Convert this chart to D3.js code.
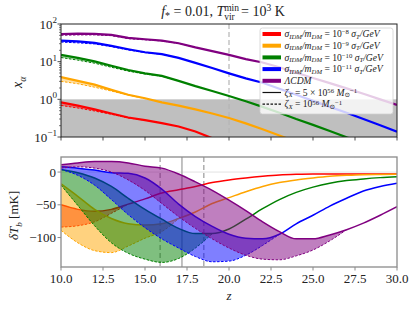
<!DOCTYPE html>
<html>
<head>
<meta charset="utf-8">
<script src="https://cdn.jsdelivr.net/npm/d3@7"></script>
<style>
  body { margin: 0; background: #fff; }
  svg text { font-family: "Liberation Serif", "DejaVu Serif", serif; fill: #222; }
</style>
</head>
<body>
<svg id="chart" width="415" height="310"></svg>
<script>
// ---------- Data ----------
const zGrid = [10, 11, 12, 13, 14, 15, 16, 17, 18, 19, 20, 21, 22, 23, 24, 25, 26, 27, 28, 29, 30];

const names = ["red", "orange", "green", "blue", "purple"];
const legendExp = ["-8", "-9", "-10", "-11"];

// top panel: x_alpha, solid = zeta 5e56, dashed = zeta 1e56 (dashed stops where it joins the solid)
const xaRedSolid = [0.83, 0.68, 0.54, 0.42, 0.33, 0.28, 0.234, 0.19, 0.14, 0.093, 0.063];
const xaRedDash = [0.69, 0.59, 0.49, 0.40, 0.32, 0.28];
const xaOrangeSolid = [3.9, 3.1, 2.45, 1.78, 1.32, 1.07, 0.83, 0.68, 0.54, 0.42, 0.32, 0.23, 0.16, 0.11, 0.074];
const xaOrangeDash = [3.0, 2.6, 2.1, 1.66, 1.29, 1.05, 0.83];
const xaGreenSolid = [15.1, 12.6, 10.2, 7.8, 6.0, 4.9, 4.2, 3.1, 2.24, 1.66, 1.23, 0.89, 0.63, 0.44, 0.30, 0.21, 0.145, 0.098, 0.068];
const xaGreenDash = [12.9, 11.0, 9.1, 7.1, 5.6, 4.7, 4.1, 3.1];
const xaBlueSolid = [36.3, 34.7, 31.6, 26.3, 21.4, 17.8, 15.8, 12.6, 9.3, 6.8, 4.9, 3.6, 2.75, 1.9, 1.32, 0.91, 0.63, 0.44, 0.30, 0.204, 0.138];
const xaBlueDash = [33.1, 31.6, 29.5, 25.1, 20.4, 17.4, 15.7, 12.6];
const xaPurpleSolid = [54.3, 55.6, 55.0, 51.3, 42.7, 39.4, 36.3, 30.9, 24.0, 19.1, 15.1, 11.7, 9.5, 7.1, 5.1, 3.7, 2.7, 1.95, 1.41, 1.0, 0.71];
const xaPurpleDash = [50.1, 51.3, 51.3, 49.0, 40.7, 38.0, 35.5, 30.5, 24.0];

// bottom panel: delta T_b in mK
const tbRedSolid = [-50, -57, -60, -57, -49, -41, -32, -27, -22, -16, -12, -9, -6.5, -4.5, -3.5, -3, -3, -3, -3, -3, -3];
const tbRedDash = [-84, -82, -76, -63, -49];
const tbOrangeSolid = [-18, -37, -57, -71, -79, -81, -79, -71, -61, -48, -39, -30, -22, -16, -12, -9, -6.5, -5, -4, -3.7, -3.5];
const tbOrangeDash = [-89, -108, -120, -123, -113, -101, -91, -71];
const tbGreenSolid = [4, -1, -9, -22, -40, -57, -72, -86, -94, -94, -87, -72, -56, -42, -31, -23, -17, -13, -10.5, -8.5, -7];
const tbGreenDash = [-20, -51, -82, -108, -124, -133, -138, -132, -116, -94];
const tbBlueSolid = [8, 6, 3, -1, -2, -9, -26, -49, -68, -83, -95, -101, -102, -95, -79, -66, -52, -40, -29, -22, -17];
const tbBlueDash = [4, -5, -20, -42, -65, -85, -102, -116, -129, -137, -136, -127, -112, -95];
const tbPurpleSolid = [11, 14, 16, 16, 14, 9, 6, -3, -15, -28, -43, -59, -76, -91, -102, -102, -96, -88, -78, -66, -53];
const tbPurpleDash = [6, 8, 6, 0, -12, -28, -48, -68, -86, -102, -116, -127, -133, -134, -128, -119, -105, -88];

const topSolid = [xaRedSolid, xaOrangeSolid, xaGreenSolid, xaBlueSolid, xaPurpleSolid];
const topDash = [xaRedDash, xaOrangeDash, xaGreenDash, xaBlueDash, xaPurpleDash];
const botSolid = [tbRedSolid, tbOrangeSolid, tbGreenSolid, tbBlueSolid, tbPurpleSolid];
const botDash = [tbRedDash, tbOrangeDash, tbGreenDash, tbBlueDash, tbPurpleDash];

const topVLines = [20];
const botVLinesDashed = [15.9, 18.5];
const botVLinesSolid = [17.2];
const xTicks = [10, 12.5, 15, 17.5, 20, 22.5, 25, 27.5, 30];
const yTopTicks = [0.1, 1, 10, 100];
const yTopExp = ["-1", "0", "1", "2"];
const yBotTicks = [0, -50, -100];

// ---------- Layout ----------
const svg = d3.select("#chart");
const L = 61, R = 397;
const x = d3.scaleLinear([10, 30], [L, R]);
const yTop = d3.scaleLog([0.1, 100], [137, 24]);
const yBot = d3.scaleLinear([-145, 23], [267, 157]);

// small helper for math-ish text with sub/superscripts
function rich(g, parts, size, supK = 0.42, subK = 0.28) {
  const t = g.append("text").attr("font-size", size);
  let off = 0;
  parts.forEach(([s, k]) => {
    const sup = k.includes("sup"), sub = k.includes("sub");
    const target = sup ? -supK * size : sub ? subK * size : 0;
    t.append("tspan")
      .attr("dy", target - off)
      .attr("font-size", sup || sub ? size * 0.7 : size)
      .attr("font-style", k.includes("it") ? "italic" : "normal")
      .text(s);
    off = target;
  });
  return t;
}

svg.append("defs").call(d => {
  d.append("clipPath").attr("id", "clipTop").append("rect")
    .attr("x", L).attr("y", 24).attr("width", R - L).attr("height", 113);
  d.append("clipPath").attr("id", "clipBot").append("rect")
    .attr("x", L).attr("y", 157).attr("width", R - L).attr("height", 110);
});

// ---------- Top panel ----------
const topG = svg.append("g").attr("clip-path", "url(#clipTop)");
topG.append("rect")
  .attr("x", L).attr("width", R - L)
  .attr("y", yTop(1)).attr("height", yTop(0.1) - yTop(1))
  .attr("fill", "#bfbfbf");

topVLines.forEach(v => {
  topG.append("line")
    .attr("x1", x(v)).attr("x2", x(v)).attr("y1", 24).attr("y2", 137)
    .attr("stroke", "#b5b5b5").attr("stroke-width", 1.2).attr("stroke-dasharray", "5,3");
});

function drawSeries(g, yScale, solids, dashes, opt) {
  solids.forEach((s, i) => {
    const c = names[i];
    const d = dashes[i];
    const band = d.map((v, j) => [zGrid[j], s[j], v]);
    g.append("path")
      .attr("d", d3.area().x(p => x(p[0])).y0(p => yScale(p[1])).y1(p => yScale(p[2])).curve(opt.curve)(band))
      .attr("fill", c).attr("fill-opacity", opt.fillOp);
    g.append("path")
      .attr("d", d3.line().x((v, j) => x(zGrid[j])).y(v => yScale(v)).curve(opt.curve)(s))
      .attr("fill", "none").attr("stroke", c).attr("stroke-width", opt.lw);
    g.append("path")
      .attr("d", d3.line().x((v, j) => x(zGrid[j])).y(v => yScale(v)).curve(opt.curve)(d))
      .attr("fill", "none").attr("stroke", c).attr("stroke-width", opt.dlw)
      .attr("stroke-dasharray", "2.5,1.5");
  });
}

drawSeries(topG, yTop, topSolid, topDash, { curve: d3.curveLinear, fillOp: 0.35, lw: 2.2, dlw: 1 });

// frame + ticks
svg.append("rect").attr("x", L).attr("y", 24).attr("width", R - L).attr("height", 113)
  .attr("fill", "none").attr("stroke", "#222").attr("stroke-width", 1);
xTicks.forEach(t => {
  svg.append("line").attr("x1", x(t)).attr("x2", x(t)).attr("y1", 137).attr("y2", 140.5)
    .attr("stroke", "#222").attr("stroke-width", 0.8);
});
yTopTicks.forEach((t, i) => {
  svg.append("line").attr("x1", L - 3.5).attr("x2", L).attr("y1", yTop(t)).attr("y2", yTop(t))
    .attr("stroke", "#222").attr("stroke-width", 0.8);
  rich(svg, [["10", ""], [yTopExp[i].replace("-", "\u2212"), "sup"]], 13)
    .attr("x", L - 4).attr("y", yTop(t) + 4.5).attr("text-anchor", "end");
});
[0.1, 1, 10].forEach(dec => {
  d3.range(2, 10).forEach(m => {
    svg.append("line").attr("x1", L - 2).attr("x2", L).attr("y1", yTop(dec * m)).attr("y2", yTop(dec * m))
      .attr("stroke", "#222").attr("stroke-width", 0.6);
  });
});

// legend
const lg = svg.append("g");
lg.append("rect").attr("x", 260).attr("y", 28).attr("width", 133).attr("height", 86).attr("rx", 2.5)
  .attr("fill", "#fff").attr("fill-opacity", 0.8).attr("stroke", "#d0d0d0").attr("stroke-width", 0.8);
const rowY = i => 34 + i * 11.7;
const lgSize = 9.6;
names.forEach((c, i) => {
  lg.append("line").attr("x1", 262.5).attr("x2", 281).attr("y1", rowY(i)).attr("y2", rowY(i))
    .attr("stroke", c).attr("stroke-width", 4);
  const parts = i < 4
    ? [["\u03C3", "it"], ["IDM", "subit"], ["/", "it"], ["m", "it"], ["DM", "subit"], [" = 10", ""],
       [legendExp[i].replace("-", "\u2212"), "sup"], [" \u03C3", "it"], ["T", "subit"], ["/GeV", "it"]]
    : [["\u039BCDM", "it"]];
  rich(lg, parts, lgSize, 0.3, 0.15).attr("x", 284.5).attr("y", rowY(i) + 3.2);
});
lg.append("line").attr("x1", 262.5).attr("x2", 281).attr("y1", rowY(5)).attr("y2", rowY(5))
  .attr("stroke", "#111").attr("stroke-width", 1.2);
rich(lg, [["\u03B6", "it"], ["X", "subit"], [" = 5 \u00D7 10", ""], ["56", "sup"], [" M", "it"], ["\u2299", "sub"], ["\u22121", "sup"]], lgSize, 0.3, 0.15)
  .attr("x", 284.5).attr("y", rowY(5) + 3.2);
lg.append("line").attr("x1", 262.5).attr("x2", 281).attr("y1", rowY(6)).attr("y2", rowY(6))
  .attr("stroke", "#111").attr("stroke-width", 1.2).attr("stroke-dasharray", "2.5,1.5");
rich(lg, [["\u03B6", "it"], ["X", "subit"], [" = 10", ""], ["56", "sup"], [" M", "it"], ["\u2299", "sub"], ["\u22121", "sup"]], lgSize, 0.3, 0.15)
  .attr("x", 284.5).attr("y", rowY(6) + 3.2);

// ---------- Bottom panel ----------
const botG = svg.append("g").attr("clip-path", "url(#clipBot)");
botG.append("line").attr("x1", L).attr("x2", R).attr("y1", yBot(0)).attr("y2", yBot(0))
  .attr("stroke", "#e2e2e2").attr("stroke-width", 1);
botVLinesDashed.forEach(v => {
  botG.append("line").attr("x1", x(v)).attr("x2", x(v)).attr("y1", 157).attr("y2", 267)
    .attr("stroke", "#a8a8a8").attr("stroke-width", 1.4).attr("stroke-dasharray", "5,3");
});
botVLinesSolid.forEach(v => {
  botG.append("line").attr("x1", x(v)).attr("x2", x(v)).attr("y1", 157).attr("y2", 267)
    .attr("stroke", "#a8a8a8").attr("stroke-width", 1.4);
});
drawSeries(botG, yBot, botSolid, botDash, { curve: d3.curveMonotoneX, fillOp: 0.5, lw: 1.5, dlw: 1 });

svg.append("rect").attr("x", L).attr("y", 157).attr("width", R - L).attr("height", 110)
  .attr("fill", "none").attr("stroke", "#8a8a8a").attr("stroke-width", 1.3);
xTicks.forEach(t => {
  svg.append("line").attr("x1", x(t)).attr("x2", x(t)).attr("y1", 267).attr("y2", 270.5)
    .attr("stroke", "#8a8a8a").attr("stroke-width", 1);
  svg.append("text").attr("x", x(t)).attr("y", 283).attr("text-anchor", "middle")
    .attr("font-size", 13).text(t.toFixed(1));
});
yBotTicks.forEach(t => {
  svg.append("line").attr("x1", L - 3.5).attr("x2", L).attr("y1", yBot(t)).attr("y2", yBot(t))
    .attr("stroke", "#8a8a8a").attr("stroke-width", 1);
  svg.append("text").attr("x", L - 5).attr("y", yBot(t) + 4.5).attr("text-anchor", "end")
    .attr("font-size", 13).text(String(t).replace("-", "\u2212"));
});

// ---------- Labels ----------
rich(svg, [["x", "it"], ["\u03B1", "subit"]], 14)
  .attr("transform", "translate(22,88) rotate(-90)");
rich(svg, [["\u03B4", "it"], ["T", "it"], ["b", "subit"], [" [mK]", ""]], 13)
  .attr("transform", "translate(18,240) rotate(-90)");
svg.append("text").attr("x", 229).attr("y", 300).attr("text-anchor", "middle")
  .attr("font-size", 13).attr("font-style", "italic").text("z");

// title with stacked sub/sup on T
const title = svg.append("text").attr("font-size", 14).attr("y", 16);
title.append("tspan").attr("font-style", "italic").text("f");
title.append("tspan").attr("dy", 3).attr("font-size", 10).text("*");
title.append("tspan").attr("dy", -3).text(" = 0.01, ");
title.append("tspan").attr("font-style", "italic").text("T");
const tMin = title.append("tspan").attr("dy", -5.5).attr("font-size", 9.5).text("min");
const wMin = tMin.node().getComputedTextLength();
title.append("tspan").attr("dx", -wMin).attr("dy", 9.5).attr("font-size", 9.5).text("vir");
title.append("tspan").attr("dy", -4).attr("dx", wMin - 12).text(" = 10");
title.append("tspan").attr("dy", -5.5).attr("font-size", 9.5).text("3");
title.append("tspan").attr("dy", 5.5).text(" K");
const tw = title.node().getComputedTextLength();
title.attr("x", 229 - tw / 2);
</script>
</body>
</html>
